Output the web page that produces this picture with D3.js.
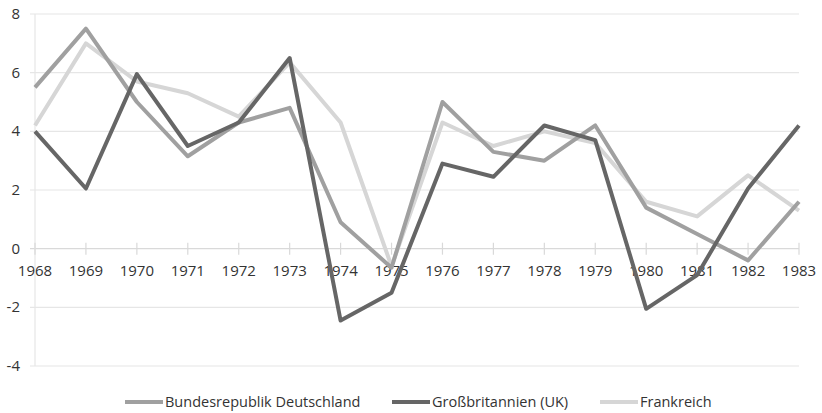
<!DOCTYPE html>
<html>
<head>
<meta charset="utf-8" />
<title>Wachstum</title>
<script src="https://cdn.jsdelivr.net/npm/d3@7/dist/d3.min.js"></script>
<style>
  body { margin: 0; background: #fff; }
  text { font-family: "Open Sans", sans-serif; fill: #333333; }
</style>
</head>
<body>
<div id="chart"></div>
<script>
// categories and series
var years = ["1968", "1969", "1970", "1971", "1972", "1973", "1974", "1975",
             "1976", "1977", "1978", "1979", "1980", "1981", "1982", "1983"];
var brd = [5.5, 7.5, 5.0, 3.15, 4.3, 4.8, 0.9, -0.65, 5.0, 3.3, 3.0, 4.2, 1.4, 0.5, -0.4, 1.6];
var uk = [4.0, 2.05, 5.95, 3.5, 4.3, 6.5, -2.45, -1.5, 2.9, 2.45, 4.2, 3.7, -2.05, -0.9, 2.05, 4.2];
var fr = [4.2, 7.0, 5.7, 5.3, 4.5, 6.35, 4.3, -0.6, 4.3, 3.5, 4.0, 3.6, 1.6, 1.1, 2.5, 1.3];
var yTicks = [-4, -2, 0, 2, 4, 6, 8];
var seriesNames = ["Bundesrepublik Deutschland", "Großbritannien (UK)", "Frankreich"];

var series = [
  { name: seriesNames[0], values: brd, color: "#a0a0a0" },
  { name: seriesNames[1], values: uk, color: "#666666" },
  { name: seriesNames[2], values: fr, color: "#d6d6d6" }
];

var width = 822, height = 413;
var svg = d3.select("#chart").append("svg")
  .attr("width", width)
  .attr("height", height);

var x = d3.scalePoint().domain(years).range([35, 799]);
var y = d3.scaleLinear().domain([-4, 8]).range([366, 14]);

// horizontal gridlines
svg.append("g").selectAll("line")
  .data(yTicks)
  .enter().append("line")
  .attr("x1", 30).attr("x2", 799)
  .attr("y1", function (d) { return y(d); })
  .attr("y2", function (d) { return y(d); })
  .attr("stroke", function (d) { return d === 0 ? "#d9d9d9" : "#e6e6e6"; })
  .attr("stroke-width", 1.2);

// vertical axis line
svg.append("line")
  .attr("x1", 35).attr("x2", 35)
  .attr("y1", y(8)).attr("y2", y(-4))
  .attr("stroke", "#e6e6e6").attr("stroke-width", 1.2);

// y labels
svg.append("g").selectAll("text")
  .data(yTicks)
  .enter().append("text")
  .attr("x", 20)
  .attr("y", function (d) { return y(d) + 5; })
  .attr("text-anchor", "end")
  .attr("font-size", 15)
  .text(function (d) { return d; });

// category ticks on the zero line
svg.append("g").selectAll("line")
  .data(years)
  .enter().append("line")
  .attr("x1", function (d) { return x(d); })
  .attr("x2", function (d) { return x(d); })
  .attr("y1", y(0) - 6).attr("y2", y(0) + 6)
  .attr("stroke", "#d9d9d9").attr("stroke-width", 1.2);

// year labels
svg.append("g").selectAll("text")
  .data(years)
  .enter().append("text")
  .attr("x", function (d) { return x(d); })
  .attr("y", y(0) + 27)
  .attr("text-anchor", "middle")
  .attr("font-size", 15)
  .text(function (d) { return d; });

var line = d3.line()
  .x(function (d, i) { return x(years[i]); })
  .y(function (d) { return y(d); });

// draw France first, then Germany, then UK on top
var order = [series[2], series[0], series[1]];
svg.append("g").selectAll("path")
  .data(order)
  .enter().append("path")
  .attr("d", function (s) { return line(s.values); })
  .attr("fill", "none")
  .attr("stroke", function (s) { return s.color; })
  .attr("stroke-width", 4)
  .attr("stroke-linejoin", "round");

// legend
var legendX = [125, 392, 600];
var lg = svg.append("g").selectAll("g")
  .data(series)
  .enter().append("g")
  .attr("transform", function (s, i) { return "translate(" + legendX[i] + ",402)"; });
lg.append("line")
  .attr("x1", 0).attr("x2", 38)
  .attr("y1", 0).attr("y2", 0)
  .attr("stroke", function (s) { return s.color; })
  .attr("stroke-width", 4);
lg.append("text")
  .attr("x", 40).attr("y", 5)
  .attr("font-size", 14.5)
  .text(function (s) { return s.name; });
</script>
</body>
</html>
